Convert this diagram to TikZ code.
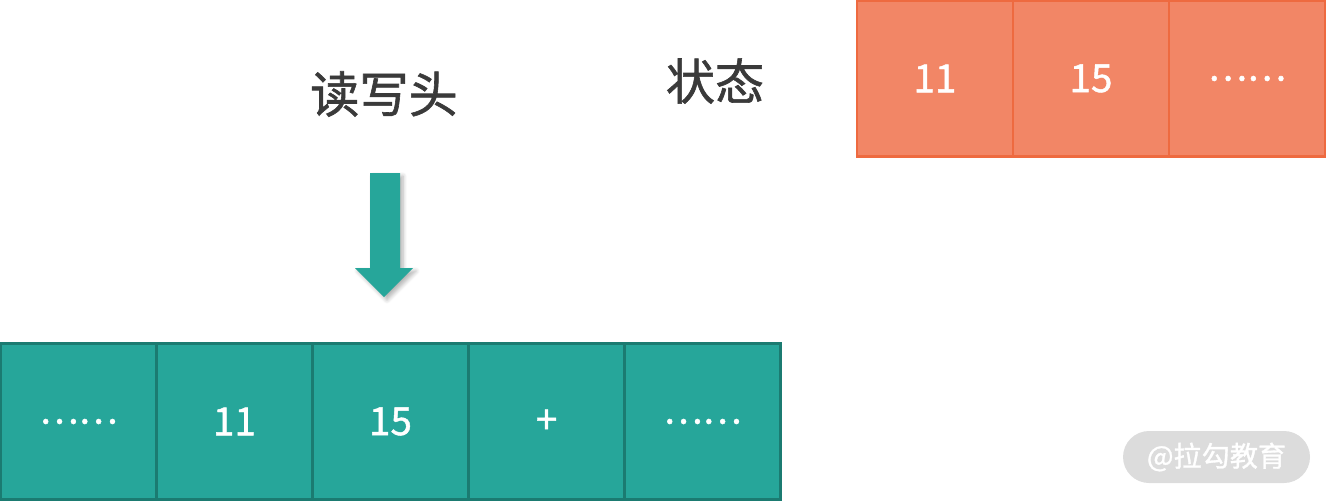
\documentclass[tikz,border=0pt]{standalone}
\usepackage{fontspec}
\newfontfamily\cjk[FakeBold=1.2]{Noto Sans CJK SC}
\usepackage{tikz}
\usetikzlibrary{shadows.blur}
\definecolor{myteal}{HTML}{26A69A}
\definecolor{mytealdark}{HTML}{1B7B71}
\definecolor{myorange}{HTML}{F28666}
\definecolor{myorangedark}{HTML}{EE6A40}
\definecolor{mytext}{HTML}{3A3A3A}
\definecolor{mymark}{HTML}{DCDCDC}
\newcommand{\celldots}{{\fontsize{21}{24}\selectfont ……}}
\tikzset{
	tapecell/.style={draw=mytealdark,fill=myteal,line width=1.2pt,minimum width=3.12cm,minimum height=3.12cm,inner sep=0pt,text=white,font=\cjk\fontsize{22}{26}\selectfont},
	statecell/.style={tapecell,draw=myorangedark,fill=myorange},
	headline/.style={text=mytext,inner sep=0pt,font=\cjk\fontsize{28}{32}\selectfont}
}

\begin{document}
\begin{tikzpicture}[x=0.02cm,y=-0.02cm]
		\useasboundingbox (0,0) rectangle (1327,501);

		% tape
		\foreach \t [count=\i] in {\celldots,11,15,+,\celldots}
			\node[tapecell] (tape\i) at ({78.5+156*(\i-1)},421.5) {\t};

		% state register
		\foreach \t [count=\i] in {11,15,\celldots}
			\node[statecell] (state\i) at ({935+156*(\i-1)},78.5) {\t};

		\node[headline] (head) at (384,94) {读写头};
		\node[headline] (statename) at (715,81) {状态};

		% read/write head
		\fill[myteal,blur shadow={shadow xshift=0.6mm,shadow yshift=-0.6mm,shadow blur radius=0.8mm,shadow blur steps=6,shadow opacity=30}]
			(370,173) -- (400,173) -- (400,268) -- (413,268) -- (384,297) -- (355,268) -- (370,268) -- cycle;

		% watermark
		\node[fill=mymark,rounded corners=0.52cm,minimum width=3.74cm,minimum height=1.04cm,text=white,font=\cjk\fontsize{16}{18}\selectfont] (mark) at (1216.5,457) {@拉勾教育};
	\end{tikzpicture}
\end{document}
